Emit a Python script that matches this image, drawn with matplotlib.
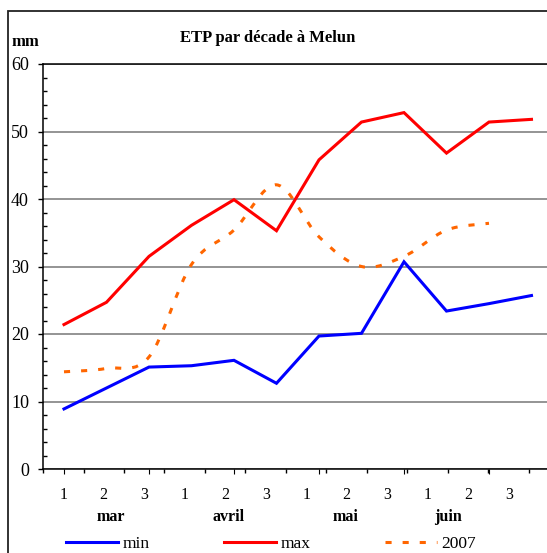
import matplotlib
matplotlib.use('Agg')
import matplotlib.pyplot as plt
from matplotlib.path import Path
from matplotlib.patches import PathPatch, Rectangle
from matplotlib.lines import Line2D
import matplotlib.transforms as mtransforms
import numpy as np

plt.rcParams['font.family'] = ['Liberation Serif', 'DejaVu Serif']

decades = ['1', '2', '3'] * 4
months = ['mar', 'avril', 'mai', 'juin']
etp_min = [8.9, 12.0, 15.1, 15.3, 16.1, 12.7, 19.7, 20.1, 30.7, 23.4, 24.5, 25.7]
etp_max = [21.4, 24.7, 31.5, 36.1, 39.9, 35.3, 45.8, 51.4, 52.8, 46.8, 51.4, 51.8]
etp_2007 = [14.4, 14.9, 16.6, 30.3, 35.4, 42.1, 34.4, 30.0, 31.5, 35.4, 36.4]

blue = '#0000ff'
red = '#ff0000'
orange = '#ff6600'
dash = (0, (2, 3.6))


def smooth_path(x, y):
    # bezier through points, excel-like smoothing
    pts = np.column_stack([x, y])
    n = len(pts)
    verts = [pts[0]]
    codes = [Path.MOVETO]
    for i in range(n - 1):
        p0 = pts[max(i - 1, 0)]
        p1 = pts[i]
        p2 = pts[i + 1]
        p3 = pts[min(i + 2, n - 1)]
        verts += [p1 + (p2 - p0) / 6., p2 - (p3 - p1) / 6., p2]
        codes += [Path.CURVE4] * 3
    return Path(verts, codes)


fig = plt.figure(figsize=(5.47, 5.53), dpi=100)
ax = fig.add_axes([43 / 547, 84 / 553, 504 / 547, 405 / 553])

x = np.arange(len(etp_min))
ax.plot(x, etp_min, color=blue, linewidth=2.2, solid_joinstyle='miter')
ax.plot(x, etp_max, color=red, linewidth=2.2, solid_joinstyle='miter')
ax.add_patch(PathPatch(smooth_path(np.arange(len(etp_2007)), etp_2007),
                       fill=False, edgecolor=orange, linewidth=2.2,
                       linestyle=dash, capstyle='butt'))

ax.set_xlim(-0.494, 11.365)
ax.set_ylim(0, 60)
ax.set_yticks(np.arange(0, 61, 10))
ax.set_yticks(np.arange(0, 61, 2), minor=True)
ax.yaxis.grid(True, color='#777777', linewidth=1.1)
ax.set_axisbelow(True)
ax.tick_params(axis='y', which='major', direction='out', length=3.6, width=1,
               pad=6.5, labelsize=13)
ax.tick_params(axis='y', which='minor', direction='in', length=2.9, width=1)
ax.tick_params(axis='x', bottom=False, labelbottom=False)
ax.spines['right'].set_visible(False)
for s in ['left', 'bottom', 'top']:
    ax.spines[s].set_linewidth(1.1)

# category axis
ax2 = ax.twiny()
ax2.set_xlim(0, 504 / 40.5)
ax2.xaxis.set_ticks_position('bottom')
ax2.xaxis.set_label_position('bottom')
ax2.set_xticks(np.arange(0, 13))
ax2.set_xticklabels([])
ax2.set_xticks(np.arange(len(decades)) + 0.5, minor=True)
ax2.set_xticklabels(decades, minor=True)
ax2.tick_params(axis='x', which='major', direction='out', length=3.2, width=1)
ax2.tick_params(axis='x', which='minor', length=0, pad=13, labelsize=11.5)
for s in ax2.spines.values():
    s.set_visible(False)

trans = mtransforms.blended_transform_factory(ax2.transData, fig.transFigure)
month_pos = [1.68, 4.59, 7.48, 10.0]
for m, p in zip(months, month_pos):
    ax2.text(p, (553 - 517) / 553, m, transform=trans, ha='center', va='center',
             fontsize=11.5, fontweight='bold')

fig.text(268 / 547, (553 - 38) / 553, 'ETP par décade à Melun', ha='center',
         va='center', fontsize=12, fontweight='bold')
fig.text(12 / 547, (553 - 42) / 553, 'mm', ha='left', va='center',
         fontsize=12, fontweight='bold')

# chart border
fig.add_artist(Rectangle((8 / 547, -0.5), 2, 0.5 + (553 - 11) / 553,
                         transform=fig.transFigure, fill=False,
                         edgecolor='#222222', linewidth=1.3))

handles = [Line2D([], [], color=blue, linewidth=2.2),
           Line2D([], [], color=red, linewidth=2.2),
           Line2D([], [], color=orange, linewidth=2.2, linestyle=dash)]
fig.legend(handles, ['min', 'max', '2007'], loc='center',
           bbox_to_anchor=(271 / 547, (553 - 544) / 553), ncol=3,
           frameon=False, fontsize=12.5, handlelength=3.0, handletextpad=0.25,
           columnspacing=4.3, borderpad=0)

plt.savefig('out.png', dpi=100)
